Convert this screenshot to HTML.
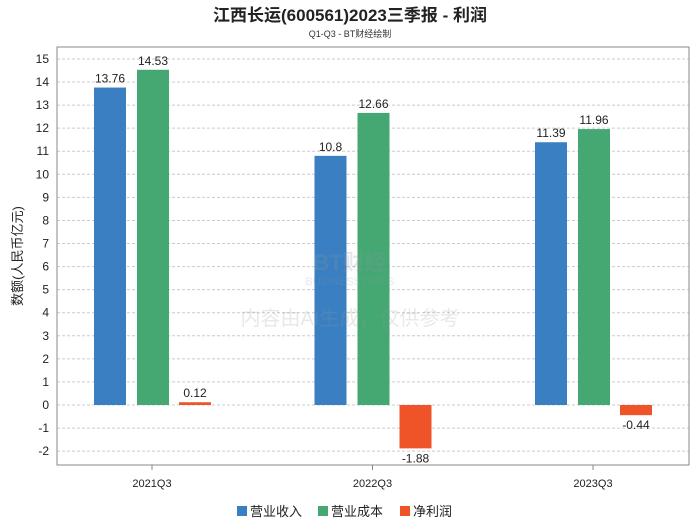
<!DOCTYPE html>
<html><head><meta charset="utf-8"><style>
body{margin:0;background:#fff;font-family:"Liberation Sans","Noto Sans CJK SC",sans-serif;}
svg text{font-family:"Liberation Sans","Noto Sans CJK SC",sans-serif;}
</style></head><body>
<svg id="c" width="700" height="524">
<text x="350" y="21" text-anchor="middle" font-size="17" font-weight="bold" fill="#222">江西长运(600561)2023三季报 - 利润</text>
<text x="350" y="37" text-anchor="middle" font-size="9" fill="#333">Q1-Q3 - BT财经绘制</text>
<text transform="translate(22,256) rotate(-90)" text-anchor="middle" font-size="13" fill="#222">数额(人民币亿元)</text>
<g id="grid"></g>
<g id="bars"></g>
<g id="wm" opacity="0.22">
<text x="350" y="270" text-anchor="middle" font-size="22" fill="#8899aa" font-weight="bold">BT财经</text>
<text x="350" y="285" text-anchor="middle" font-size="11" fill="#8899aa">BUSINESSTIMES</text>
<text x="350" y="325" text-anchor="middle" font-size="20" fill="#999">内容由AI生成，仅供参考</text>
</g>
<g>
<rect x="237" y="506" width="10" height="10" fill="#3a7fc1"/>
<text x="250" y="516" font-size="13" fill="#222">营业收入</text>
<rect x="318" y="506" width="10" height="10" fill="#45a872"/>
<text x="331" y="516" font-size="13" fill="#222">营业成本</text>
<rect x="400" y="506" width="10" height="10" fill="#ee5428"/>
<text x="413" y="516" font-size="13" fill="#222">净利润</text>
</g>
</svg>
<script>
const categories=["2021Q3","2022Q3","2023Q3"];
const revenue=[13.76,10.8,11.39];
const cost=[14.53,12.66,11.96];
const profit=[0.12,-1.88,-0.44];
const yTicks=[-2,-1,0,1,2,3,4,5,6,7,8,9,10,11,12,13,14,15];
const NS="http://www.w3.org/2000/svg";
const L=57,R=689,T=47,B=465;
const y=v=>405-v*23.07;
const cx=i=>152+220.5*i;
function mk(t,a,p){const e=document.createElementNS(NS,t);for(const k in a)e.setAttribute(k,a[k]);(p||document.getElementById('c')).appendChild(e);return e;}
const g=document.getElementById('grid');
yTicks.forEach(v=>{
 const l=mk('line',{x1:L,x2:R,y1:y(v),y2:y(v),stroke:'#ccc','stroke-dasharray':'3,2'},g);
 
 
 const t=mk('text',{x:L-8,y:y(v)+4,'text-anchor':'end','font-size':12,fill:'#222'},g);t.textContent=v;
 
 
});
const fr=mk('rect',{x:L,y:T,width:R-L,height:B-T,fill:'none',stroke:'#888'},g);


categories.forEach((c,i)=>{
 const t=mk('text',{x:cx(i),y:487,'text-anchor':'middle','font-size':11,fill:'#222'},g);t.textContent=c;
 
 
 const tk=mk('line',{x1:cx(i),x2:cx(i),y1:B,y2:B+5,stroke:'#888'},g);
 
 
});
const bg=document.getElementById('bars');
const series=[[revenue,'#3a7fc1',-58,'revenue'],[cost,'#45a872',-15,'cost'],[profit,'#ee5428',27,'profit']];
series.forEach(([arr,col,off,nm])=>{
 arr.forEach((v,i)=>{
  const x=cx(i)+off,y0=y(0),y1=y(v);
  const r=mk('rect',{x:x,y:Math.min(y0,y1),width:32,height:Math.abs(y1-y0),fill:col},bg);
  
  
  const t=mk('text',{x:x+16,y:v>=0?y1-5:y1+14,'text-anchor':'middle','font-size':12,fill:'#222'},bg);t.textContent=v;
  
  
 });
});
</script>
</body></html>
